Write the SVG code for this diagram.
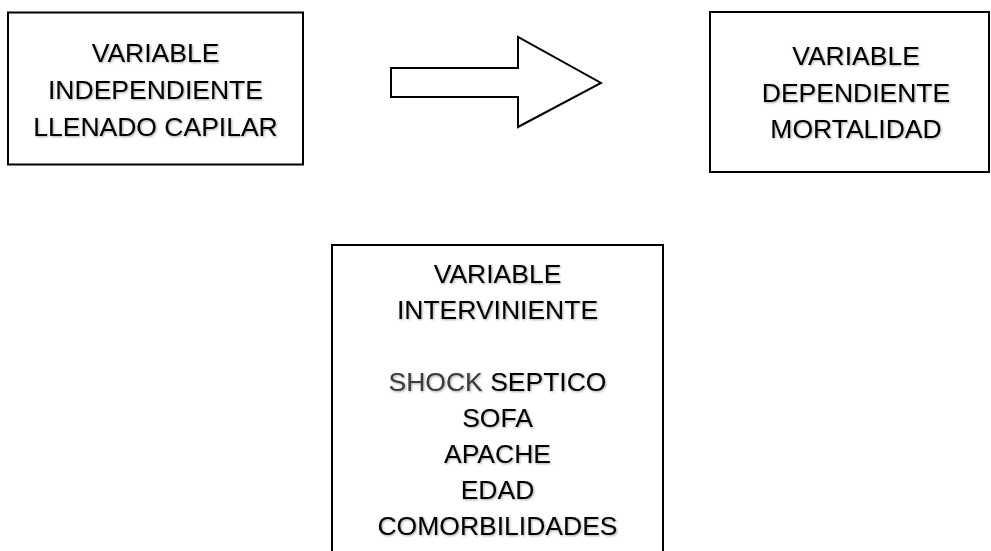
<svg xmlns="http://www.w3.org/2000/svg" width="991" height="551" viewBox="0 0 991 551">
<defs>
<filter id="sh" x="-10%" y="-30%" width="120%" height="160%">
<feDropShadow dx="1" dy="1" stdDeviation="0.8" flood-color="#000" flood-opacity="0.35"/>
</filter>
</defs>
<style>
.box{fill:#fff;stroke:#000;stroke-width:2}
.t{font-family:"Liberation Sans",Arial,sans-serif;font-size:26.5px;fill:#000;text-anchor:middle;filter:url(#sh)}
.arrow{fill:#fff;stroke:#000;stroke-width:2;stroke-linejoin:miter}
</style>
<rect width="991" height="551" fill="#fff"/>
<g id="independiente">
<rect class="box" x="8" y="12.5" width="295" height="152"/>
<text class="t" x="155.5" y="62">VARIABLE</text>
<text class="t" x="155.5" y="99">INDEPENDIENTE</text>
<text class="t" x="155.5" y="135.5">LLENADO CAPILAR</text>
</g>
<g id="dependiente">
<rect class="box" x="710" y="12" width="279" height="160"/>
<text class="t" x="856" y="65">VARIABLE</text>
<text class="t" x="856" y="101.5">DEPENDIENTE</text>
<text class="t" x="856" y="137.5">MORTALIDAD</text>
</g>
<g id="interviniente">
<rect class="box" x="332" y="245" width="331" height="330"/>
<text class="t" x="497.5" y="283">VARIABLE</text>
<text class="t" x="497.5" y="319">INTERVINIENTE</text>
<text class="t" x="497.5" y="391"><tspan fill="#3a3a3a">SHOCK</tspan> SEPTICO</text>
<text class="t" x="497.5" y="427">SOFA</text>
<text class="t" x="497.5" y="463">APACHE</text>
<text class="t" x="497.5" y="499">EDAD</text>
<text class="t" x="497.5" y="535">COMORBILIDADES</text>
</g>
<g id="connectors">
<path class="arrow" d="M391,68 L518,68 L518,37 L601,83 L518,127 L518,97 L391,97 Z"/>
</g>
</svg>
